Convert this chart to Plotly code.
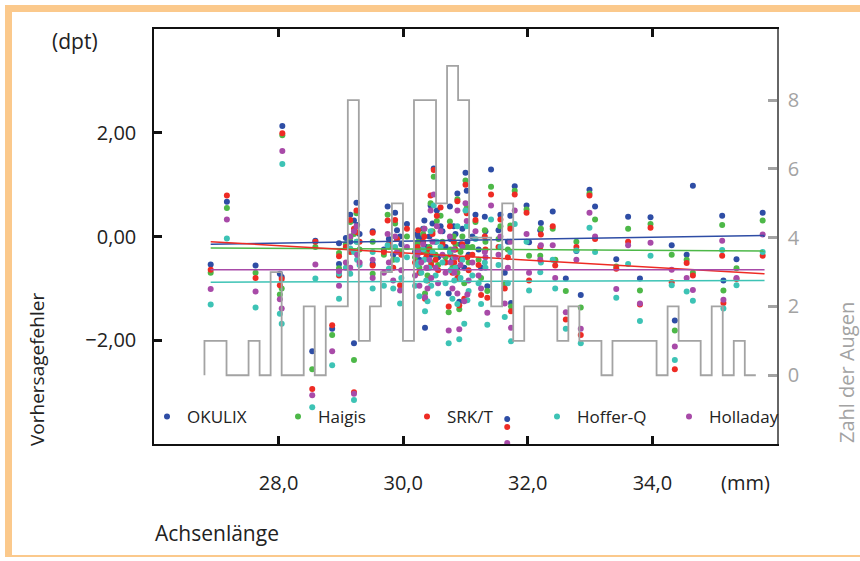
import numpy as np
import plotly.graph_objects as go

# ---------------- data ----------------
# axial length (mm) of each eye and prediction error (dpt) per formula
axial = [26.91, 27.17, 27.63, 28.02, 28.05, 28.06, 28.54, 28.59, 28.86, 29.21,
         28.97, 28.97, 29.08, 29.15, 29.15, 29.21, 29.25, 29.26, 29.30, 29.51,
         29.51, 29.75, 29.87,
         29.95, 30.06, 30.24, 30.34, 30.35, 30.44, 30.49, 30.54, 30.60, 30.73,
         30.75, 30.87, 30.90, 30.98, 31.00, 31.02, 31.03, 31.16, 31.25, 31.31,
         31.35, 31.41, 31.56, 31.63, 31.67, 31.72, 31.73, 31.79,
         29.69, 29.77, 29.84, 29.90, 29.97, 30.19, 30.23, 30.26, 30.29, 30.32,
         30.37, 30.39, 30.42, 30.45, 30.47, 30.52, 30.56, 30.63, 30.68, 30.76,
         30.79, 30.81, 30.82, 30.84, 30.87, 30.92, 30.95, 31.05, 31.11, 31.21,
         31.32, 31.53, 31.68,
         31.98, 32.02, 32.21, 32.20, 32.40, 32.44, 32.61, 32.78, 32.85, 32.99,
         33.08, 33.42, 33.61, 33.80, 33.97, 34.31, 34.36, 34.55, 34.65, 35.12,
         35.14, 35.35, 35.77]
okulix = [-0.54, 0.67, -0.56, -0.72, -0.78, 2.13, -2.21, -0.08, -1.78, -2.06,
          -0.13, -0.53, -0.03, 0.42, -0.10, 0.31, 0.65, 0.22, 0.05, 0.10,
          -0.53, 0.58, 0.46,
          0.00, 0.24, 0.00, 0.31, -1.76, 0.60, 1.31, 0.50, 0.20, -1.10,
          0.58, 0.83, -1.26, -0.60, 1.23, 0.88, -0.10, 0.42, -0.60, 0.38,
          -0.96, 1.29, 0.42, -0.70, -3.52, 0.40, -1.28, 0.97,
          -0.25, -0.05, -0.35, 0.12, -0.15, -0.30, 0.05, -0.45, -0.05, 0.15,
          -0.20, -0.60, 0.00, -0.35, 0.25, -0.10, -0.40, 0.10, -0.20, -0.05,
          -0.45, 0.20, -0.25, 0.05, -0.60, -0.15, 0.15, -0.35, 0.00, -0.25,
          0.10, 0.12, -0.10,
          0.60, -0.11, 0.26, 0.12, 0.48, -0.46, -0.81, -0.28, -1.13, 0.90,
          0.58, -0.44, 0.38, -0.81, 0.37, -0.17, -1.62, -0.35, 0.98, 0.40,
          -0.85, -0.44, 0.46]
haigis = [-0.70, 0.55, -0.70, -1.12, -1.00, 1.95, -2.56, -0.20, -1.90, -2.38,
          -0.32, -0.61, -0.15, 0.28, -0.02, 0.05, 0.45, -0.10, -0.25, -0.10,
          -0.72, 0.42, 0.25,
          -0.30, 0.00, -0.10, 0.15, -1.10, 0.64, 1.15, 0.30, 0.40, -1.46,
          0.29, 0.72, -1.40, -0.90, 1.08, 0.55, -0.20, 0.28, -0.80, 0.12,
          -1.05, 0.96, 0.20, -0.90, -4.30, 0.21, -1.35, 0.88,
          -0.35, -0.20, -0.45, -0.05, -0.30, -0.40, -0.15, -0.60, -0.25, 0.05,
          -0.30, -0.75, -0.20, -0.50, 0.10, -0.35, -0.55, -0.10, -0.40, -0.25,
          -0.60, 0.00, -0.40, -0.15, -0.70, -0.30, 0.00, -0.50, -0.20, -0.45,
          -0.10, -0.05, -0.25,
          0.52, -0.37, 0.15, -0.37, 0.15, -0.45, -1.05, -0.10, -1.37, 0.83,
          0.33, -0.58, 0.15, -1.04, 0.24, -0.35, -1.81, -0.45, -0.70, 0.22,
          -1.04, -0.61, 0.31]
srkt = [-0.64, 0.79, -0.80, -0.94, -0.82, 1.99, -2.94, -0.10, -1.71, -3.00,
        -0.38, -0.75, -0.20, 0.32, -0.30, 0.15, 0.50, 0.08, -0.10, 0.07,
        -0.56, 0.31, 0.32,
        -0.94, 0.15, 0.12, 0.00, -1.20, 0.79, 1.28, 0.40, 0.56, -1.35,
        0.20, 0.68, -1.33, -1.20, 1.00, 0.45, -0.40, 0.32, -1.13, 0.00,
        -1.18, 0.81, 0.33, -1.00, -3.67, 0.15, -1.44, 0.81,
        -0.30, -0.15, -0.60, -0.05, -0.35, -0.50, -0.20, -0.70, -0.30, -0.10,
        -0.40, -0.85, -0.25, -0.55, 0.05, -0.45, -0.65, -0.15, -0.50, -0.35,
        -0.70, -0.10, -0.50, -0.25, -0.80, -0.45, -0.15, -0.65, -0.35, -0.55,
        -0.25, -0.20, -0.40,
        0.46, -0.85, 0.04, -0.20, 0.20, -0.56, -1.60, -0.20, -1.90, 0.79,
        -0.05, -0.62, -0.10, -1.31, 0.17, -0.88, -2.56, -0.51, -0.75, -0.37,
        -1.28, -0.82, -0.37]
hofferq = [-1.31, -0.04, -1.37, -1.49, -1.68, 1.40, -3.29, -0.81, -2.48, -3.15,
           -0.72, -1.20, -0.60, -0.23, -0.72, -0.30, -0.10, -0.45, -0.55, -0.30,
           -1.00, -0.17, -0.20,
           -1.29, -0.40, -0.50, -0.45, -1.44, 0.10, 0.60, -0.10, -0.20, -2.06,
           -0.30, 0.20, -1.98, -1.68, 0.50, 0.20, -1.23, -0.05, -1.30, -0.50,
           -1.70, 0.33, -0.20, -1.55, -4.50, -0.30, -2.02, 0.24,
           -0.95, -0.62, -1.00, -0.45, -0.80, -0.95, -0.55, -1.15, -0.70, -0.25,
           -0.85, -1.25, -0.60, -0.95, -0.30, -0.75, -1.10, -0.50, -0.90, -0.65,
           -1.20, -0.40, -0.85, -0.60, -1.30, -0.80, -0.45, -1.05, -0.75, -0.90,
           -0.60, -0.55, -0.90,
           -0.10, -1.04, -0.50, -0.69, -0.45, -1.00, -1.78, -0.27, -2.06, 0.17,
           -0.30, -1.18, -0.53, -1.63, -0.37, -0.94, -2.38, -1.06, -1.24, -0.26,
           -1.39, -0.94, -0.30]
holladay = [-1.01, 0.33, -1.06, -1.21, -1.39, 1.65, -3.06, -0.54, -2.21, -3.03,
            -0.67, -0.95, -0.50, 0.00, -0.60, 0.10, 0.20, -0.35, -0.50, -0.45,
            -0.80, 0.05, 0.00,
            -1.04, -0.20, -0.30, 0.15, -1.17, 0.50, 0.81, 0.20, 0.10, -1.81,
            0.00, 0.50, -1.79, -1.25, 0.64, 0.30, -1.12, 0.10, -1.00, -0.30,
            -1.47, 0.60, 0.00, -1.29, -3.98, -0.10, -1.76, 0.50,
            -0.70, -0.50, -0.85, -0.30, -0.65, -0.75, -0.35, -0.95, -0.50, -0.15,
            -0.60, -1.00, -0.45, -0.80, -0.10, -0.60, -0.90, -0.35, -0.70, -0.50,
            -1.00, -0.25, -0.70, -0.40, -1.10, -0.55, -0.20, -0.85, -0.50, -0.75,
            -0.40, -0.35, -0.60,
            0.05, -0.70, -0.17, -0.45, -0.17, -0.80, -1.46, -0.45, -1.78, 0.46,
            0.00, -1.01, -0.17, -1.29, -0.12, -0.64, -2.12, -0.80, -1.03, -0.08,
            -1.22, -0.80, 0.04]

# regression lines: value at first and last axial length
trend_x = [26.91, 35.80]
trend_okulix = [-0.15, 0.02]
trend_haigis = [-0.22, -0.28]
trend_srkt = [-0.10, -0.72]
trend_hofferq = [-0.88, -0.85]
trend_holladay = [-0.64, -0.64]

# histogram of axial lengths (number of eyes per bin)
hist_start = 26.81
hist_width = 0.177
hist_counts = [1, 1, 0, 0, 1, 0, 3, 0, 0, 2, 0, 2, 2, 8, 1, 2, 3, 5, 1, 8,
               8, 5, 9, 8, 4, 4, 2, 5, 1, 2, 2, 2, 1, 2, 1, 1, 0, 1, 1, 1,
               1, 0, 2, 1, 1, 0, 2, 0, 1, 0]

x_ticks = [28, 30, 32, 34]
x_labels = ["28,0", "30,0", "32,0", "34,0"]
y_ticks = [-2, 0, 2]
y_labels = ["\u22122,00", "0,00", "2,00"]
y2_ticks = [0, 2, 4, 6, 8]

series = [
    ("OKULIX", okulix, trend_okulix, "#2e4da5"),
    ("Haigis", haigis, trend_haigis, "#4db848"),
    ("SRK/T", srkt, trend_srkt, "#ee2b24"),
    ("Hoffer-Q", hofferq, trend_hofferq, "#3dc3b5"),
    ("Holladay", holladay, trend_holladay, "#a84aa8"),
]
legend_marker_px = [172, 303, 432, 562, 694]   # legend entry positions (layout)

# ---------------- layout helpers (pixel -> paper) ----------------
L, R, T, B = 154, 777, 29, 444
W, H = R - L, B - T
def px(x):
    return (x - L) / W
def py(y):
    return (B - y) / H

FONT = "Open Sans"
TXT = "#222222"
fig = go.Figure()

# histogram outline on secondary axis
edges = hist_start + hist_width * np.arange(len(hist_counts) + 1)
hx = [edges[0]] + list(edges)
hy = [0] + list(hist_counts) + [0]
fig.add_trace(go.Scatter(x=hx, y=hy, yaxis="y2", mode="lines",
                         line=dict(color="#a3a3a3", width=1.8, shape="hv"),
                         showlegend=False, hoverinfo="skip"))

legend_layout = {}
for i, (name, vals, tr, col) in enumerate(series):
    lname = "legend" if i == 0 else f"legend{i + 1}"
    fig.add_trace(go.Scatter(x=axial, y=vals, mode="markers", name=name, legend=lname,
                             marker=dict(color=col, size=6, line=dict(width=0))))
    legend_layout[lname] = dict(
        x=px(legend_marker_px[i] - 25), y=py(417), xanchor="left", yanchor="middle",
        itemwidth=30, bgcolor="rgba(0,0,0,0)", borderwidth=0,
        font=dict(family=FONT, size=17, color=TXT))
for name, vals, tr, col in series:
    fig.add_trace(go.Scatter(x=trend_x, y=tr, mode="lines", showlegend=False,
                             line=dict(color=col, width=1.5)))

orange = "#fbc98c"
shapes = [
    dict(type="rect", xref="paper", yref="paper", x0=px(5), x1=px(12), y0=py(556), y1=py(5),
         fillcolor=orange, line=dict(width=0), layer="below"),
    dict(type="rect", xref="paper", yref="paper", x0=px(5), x1=px(860), y0=py(12), y1=py(5),
         fillcolor=orange, line=dict(width=0), layer="below"),
    dict(type="rect", xref="paper", yref="paper", x0=px(5), x1=px(860), y0=py(557), y1=py(555),
         fillcolor=orange, line=dict(width=0), layer="below"),
]

annotations = [
    dict(text="(dpt)", x=px(75), y=py(41), xref="paper", yref="paper", showarrow=False,
         font=dict(family=FONT, size=21, color=TXT), xanchor="center", yanchor="middle"),
    dict(text="(mm)", x=px(745), y=py(482), xref="paper", yref="paper", showarrow=False,
         font=dict(family=FONT, size=20, color=TXT), xanchor="center", yanchor="middle"),
    dict(text="Achsenlänge", x=px(153), y=py(533), xref="paper", yref="paper", showarrow=False,
         font=dict(family=FONT, size=21, color=TXT), xanchor="left", yanchor="middle"),
    dict(text="Vorhersagefehler", x=px(37), y=py(370), xref="paper", yref="paper", showarrow=False,
         textangle=-90, font=dict(family=FONT, size=19, color=TXT),
         xanchor="center", yanchor="middle"),
    dict(text="Zahl der Augen", x=px(846), y=py(373), xref="paper", yref="paper", showarrow=False,
         textangle=-90, font=dict(family=FONT, size=20, color="#a3a3a3"),
         xanchor="center", yanchor="middle"),
]

fig.update_layout(
    width=860, height=561,
    margin=dict(l=L, r=860 - R, t=T, b=561 - B),
    paper_bgcolor="white", plot_bgcolor="white",
    font=dict(family=FONT, size=20, color=TXT),
    showlegend=True,
    xaxis=dict(range=[26, 36], tickvals=x_ticks, ticktext=x_labels, ticks="inside",
               ticklen=8, tickwidth=2.5, tickcolor="#111", showgrid=False, zeroline=False,
               showline=True, linecolor="#111", linewidth=1.5, mirror="ticks",
               ticklabelstandoff=20, tickfont=dict(family=FONT, size=20, color=TXT)),
    yaxis=dict(range=[-4, 4], tickvals=y_ticks, ticktext=y_labels, ticks="inside",
               ticklen=8, tickwidth=2.5, tickcolor="#111", showgrid=False, zeroline=False,
               showline=True, linecolor="#111", linewidth=1.5,
               ticklabelstandoff=12, tickfont=dict(family=FONT, size=20, color=TXT)),
    yaxis2=dict(range=[-2.0, 10.07], overlaying="y", side="right", tickvals=y2_ticks,
                ticks="inside", ticklen=9, tickwidth=3, tickcolor="#a3a3a3",
                showgrid=False, zeroline=False, showline=True, linecolor="#666",
                linewidth=1.5, ticklabelstandoff=5,
                tickfont=dict(family=FONT, size=20, color="#a3a3a3")),
    shapes=shapes,
    annotations=annotations,
    **legend_layout,
)

fig.write_html("out.html")
